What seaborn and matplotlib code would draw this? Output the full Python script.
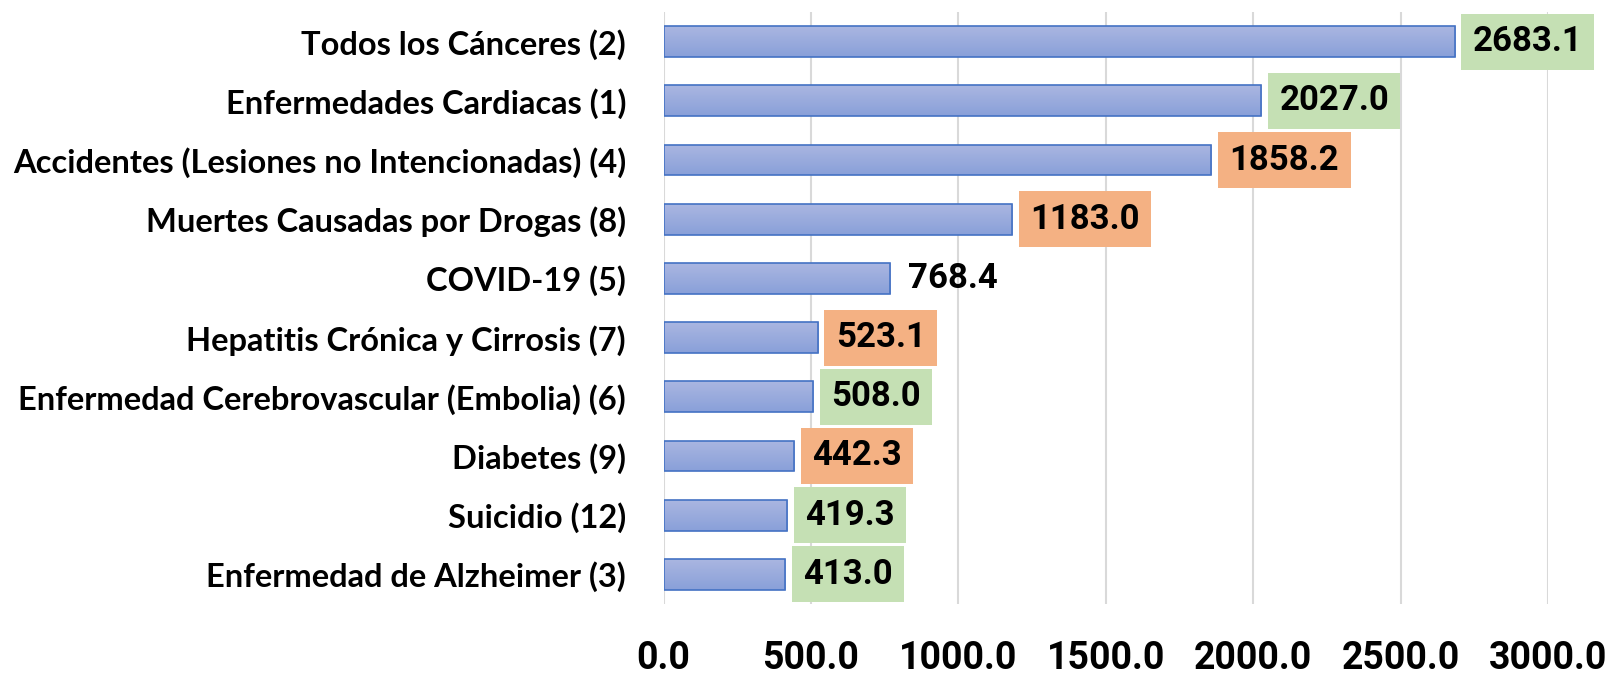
import numpy as np
import pandas as pd
import matplotlib
matplotlib.use("Agg")
import matplotlib.pyplot as plt
import seaborn as sns

causes = [
    "Todos los Cánceres (2)",
    "Enfermedades Cardiacas (1)",
    "Accidentes (Lesiones no Intencionadas) (4)",
    "Muertes Causadas por Drogas (8)",
    "COVID-19 (5)",
    "Hepatitis Crónica y Cirrosis (7)",
    "Enfermedad Cerebrovascular (Embolia) (6)",
    "Diabetes (9)",
    "Suicidio (12)",
    "Enfermedad de Alzheimer (3)",
]
values = [2683.1, 2027.0, 1858.2, 1183.0, 768.4, 523.1, 508.0, 442.3, 419.3, 413.0]
# highlight of each value label: "g" green, "o" orange, "" none
highlight = ["g", "g", "o", "o", "", "o", "g", "o", "g", "g"]
x_ticks = [0, 500, 1000, 1500, 2000, 2500, 3000]

df = pd.DataFrame({"cause": causes, "value": values})

sns.set_theme(style="white")
num_font = ["Roboto", "DejaVu Sans"]
label_font = ["Lato", "DejaVu Sans"]

fig = plt.figure(figsize=(16.18, 6.75), dpi=100)
ax = fig.add_axes([0.4101, 0.1052, 0.5467, 0.877])

sns.barplot(data=df, x="value", y="cause", orient="h", ax=ax, width=0.52,
            facecolor="none", edgecolor="#4472c4", linewidth=1.2, zorder=3)

ax.set_xlim(0, 3000)
ax.set_ylim(len(causes) - 0.5, -0.5)

# vertical gradient fill inside each bar
grad = np.linspace(0, 1, 64).reshape(-1, 1)
top_c = np.array([0.667, 0.714, 0.882])
bot_c = np.array([0.537, 0.627, 0.851])
img = top_c[None, None, :] * (1 - grad[:, :, None]) + bot_c[None, None, :] * grad[:, :, None]
for p in ax.patches:
    x0, y0 = p.get_x(), p.get_y()
    w, h = p.get_width(), p.get_height()
    im = ax.imshow(img, extent=(x0, x0 + w, y0 + h, y0), aspect="auto",
                   zorder=2, interpolation="bilinear")
    im.set_clip_path(p)
ax.set_xlim(0, 3000)
ax.set_ylim(len(causes) - 0.5, -0.5)

ax.set_xticks(x_ticks)
ax.set_xticklabels([f"{t:.1f}" for t in x_ticks], family=num_font,
                   fontsize=27, fontweight="bold", color="black")
ax.set_yticks(range(len(causes)))
ax.set_yticklabels(causes, family=label_font, fontsize=23.5,
                   fontweight="bold", color="black")
ax.tick_params(axis="x", length=0, pad=26)
ax.tick_params(axis="y", length=0, pad=27)
ax.set_xlabel("")
ax.set_ylabel("")

ax.grid(axis="x", color="#d9d9d9", linewidth=1.5, zorder=0)
ax.grid(axis="y", visible=False)
ax.set_axisbelow(True)
for s in ax.spines.values():
    s.set_visible(False)

box_colors = {"g": "#c5e0b4", "o": "#f4b183"}
for i, (v, hl) in enumerate(zip(values, highlight)):
    bbox = None
    if hl:
        bbox = dict(boxstyle="square,pad=0.33", facecolor=box_colors[hl],
                    edgecolor="none")
    ax.annotate(f"{v:.1f}", xy=(v, i), xytext=(13, 0),
                textcoords="offset points", ha="left", va="center",
                family=num_font, fontsize=25, fontweight="bold",
                color="black", bbox=bbox, zorder=5)

fig.savefig("out.png", dpi=100)
